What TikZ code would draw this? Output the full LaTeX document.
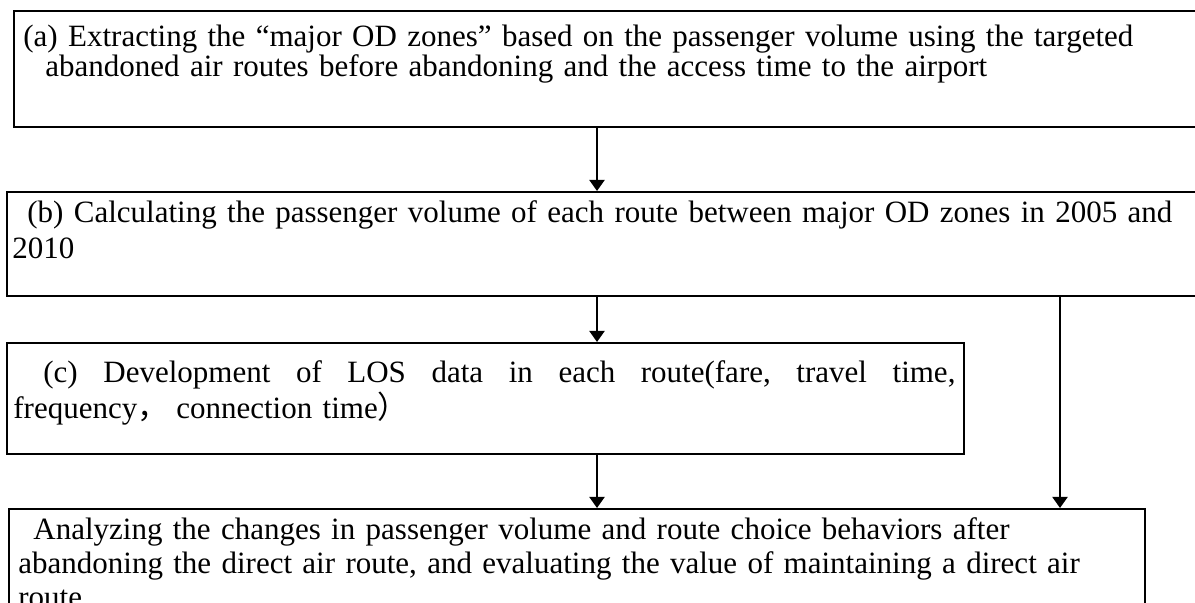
\documentclass[tikz,border=0pt]{standalone}
\usepackage{fontspec}
\setmainfont{Liberation Serif}
\newfontfamily\cjk{Noto Sans CJK SC}
\usepackage{tikz}
\usetikzlibrary{arrows.meta, positioning}
\tikzset{
  frame/.style={rectangle, draw=black, line width=1pt, anchor=north west,
                inner sep=0pt},
  steptext/.style={anchor=base west, inner sep=0pt, align=left,
                   text width=620pt, font=\fontsize{15.5pt}{#1}\selectfont},
  arrow/.style={-{Triangle[width=7.5pt, length=5.5pt]}, line width=1pt, draw=black},
}

\begin{document}
\begin{tikzpicture}[x=0.5pt, y=-0.5pt]
  \useasboundingbox (0,0) rectangle (1195,603);
  \clip (0,0) rectangle (1195,603);

  \node[frame, minimum width=596pt, minimum height=58pt] (extract) at (13,10) {};
  \node[frame, minimum width=599.5pt, minimum height=52pt] (volume) at (6,191) {};
  \node[frame, minimum width=478.5pt, minimum height=55.5pt] (los) at (6,342) {};
  \node[frame, minimum width=568pt, minimum height=71pt] (analysis) at (8,508) {};

  \node[steptext=14.75pt] (extract-txt) at (23,47)
    {(a) Extracting the “major OD zones” based on the passenger volume using the targeted\\
     \hspace*{11pt}abandoned air routes before abandoning and the access time to the airport};
  \node[steptext=18pt] (volume-txt) at (12,223)
    {\hspace*{7.5pt}(b) Calculating the passenger volume of each route between major OD zones in 2005 and\\
     2010};
  \node[steptext=16pt] (los-txt) at (13,383)
    {\hbox to 471pt{\hspace*{15pt}(c)\hfill Development\hfill of\hfill LOS\hfill data\hfill in\hfill
       each\hfill route(fare,\hfill travel\hfill time,}\\
     frequency{\cjk ，}\hspace{4pt}connection time{\cjk ）}};
  \node[steptext=17pt] (analysis-txt) at (18,540)
    {\hspace*{7.5pt}Analyzing the changes in passenger volume and route choice behaviors after\\
     abandoning the direct air route, and evaluating the value of maintaining a direct air\\
     route};

  \coordinate (colmain) at (597,0);
  \coordinate (colside) at (1060,0);

  \draw[arrow] (extract.south -| colmain) -- (volume.north -| colmain);
  \draw[arrow] (volume.south -| colmain) -- (los.north -| colmain);
  \draw[arrow] (los.south -| colmain) -- (analysis.north -| colmain);
  \draw[arrow] (volume.south -| colside) -- (analysis.north -| colside);
\end{tikzpicture}
\end{document}
